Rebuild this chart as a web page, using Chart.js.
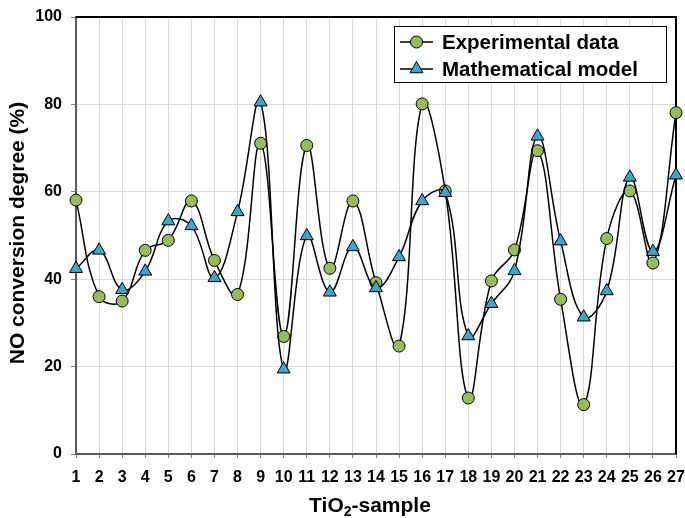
<!DOCTYPE html>
<html>
<head>
<meta charset="utf-8">
<script src="https://cdn.jsdelivr.net/npm/chart.js@4/dist/chart.umd.min.js"></script>
<style>
  html, body { margin: 0; padding: 0; background: #ffffff; }
  #wrap { width: 685px; height: 518px; position: relative; }
</style>
</head>
<body>
<div id="wrap"><canvas id="chart" width="685" height="518"></canvas></div>
<script>
// TiO2 samples 1..27
const samples = ['1','2','3','4','5','6','7','8','9','10','11','12','13','14','15','16','17','18','19','20','21','22','23','24','25','26','27'];

// NO conversion degree (%)
const experimental = [58.1, 36.0, 35.0, 46.6, 48.9, 57.9, 44.3, 36.5, 71.1, 26.9, 70.6, 42.5, 57.9, 39.2,
                      24.7, 80.1, 60.2, 12.8, 39.6, 46.7, 69.4, 35.4, 11.3, 49.3, 60.2, 43.7, 78.1];
const model = [42.4, 46.6, 37.6, 41.8, 53.3, 52.2, 40.3, 55.4, 80.5, 19.4, 49.9, 37.0, 47.4, 38.0,
               45.1, 57.9, 59.8, 27.0, 34.4, 41.9, 72.7, 48.7, 31.3, 37.3, 63.3, 46.3, 63.8];

const yMin = 0, yMax = 100, yStep = 20;

const seriesNames = ['Experimental data', 'Mathematical model'];
const yTitle = 'NO conversion degree (%)';

const FONT = '"Liberation Sans", Arial, sans-serif';
const GREEN = '#9bbb59';
const BLUE = '#3ba6c6';

// top/right frame of the plot area
const frame = {
  id: 'frame',
  beforeDatasetsDraw(chart) {
    const { ctx, chartArea: a } = chart;
    ctx.save();
    ctx.strokeStyle = '#000000';
    ctx.lineWidth = 2;
    ctx.beginPath();
    ctx.moveTo(a.left, a.top);
    ctx.lineTo(a.right, a.top);
    ctx.lineTo(a.right, a.bottom);
    ctx.stroke();
    ctx.restore();
  }
};

function marker(ctx, style, x, y, r, fill) {
  ctx.beginPath();
  if (style === 'circle') {
    ctx.arc(x, y, r, 0, Math.PI * 2);
  } else {
    for (let i = 0; i < 3; i++) {
      const ang = i * 2 * Math.PI / 3;
      const px = x + Math.sin(ang) * r, py = y - Math.cos(ang) * r;
      if (i === 0) ctx.moveTo(px, py); else ctx.lineTo(px, py);
    }
    ctx.closePath();
  }
  ctx.fillStyle = fill;
  ctx.fill();
  ctx.lineWidth = 1;
  ctx.strokeStyle = '#000000';
  ctx.stroke();
}

// boxed legend inside the plot and the axis titles
const decorations = {
  id: 'decorations',
  afterDatasetsDraw(chart) {
    const { ctx } = chart;
    ctx.save();
    // legend box
    const bx = 394, by = 26, bw = 272, bh = 56;
    ctx.fillStyle = '#ffffff';
    ctx.fillRect(bx, by, bw, bh);
    ctx.strokeStyle = '#000000';
    ctx.lineWidth = 1;
    ctx.strokeRect(bx + 0.5, by + 0.5, bw, bh);
    const rows = [by + 16, by + 43];
    chart.data.datasets.forEach((ds, i) => {
      const y = rows[i];
      ctx.strokeStyle = '#000000';
      ctx.lineWidth = 1.5;
      ctx.beginPath();
      ctx.moveTo(400, y);
      ctx.lineTo(433, y);
      ctx.stroke();
      marker(ctx, ds.pointStyle, 416.5, y, ds.pointRadius, ds.pointBackgroundColor);
      ctx.fillStyle = '#000000';
      ctx.font = 'bold 20.5px ' + FONT;
      ctx.textAlign = 'left';
      ctx.textBaseline = 'middle';
      ctx.fillText(ds.label, 442, y + 1);
    });

    // y-axis title
    ctx.save();
    ctx.translate(24, 233);
    ctx.rotate(-Math.PI / 2);
    ctx.font = 'bold 21px ' + FONT;
    ctx.fillStyle = '#000000';
    ctx.textAlign = 'center';
    ctx.textBaseline = 'alphabetic';
    ctx.fillText(yTitle, 0, 0);
    ctx.restore();

    // x-axis title: TiO2-sample with subscript
    const big = 'bold 21px ' + FONT, small = 'bold 14px ' + FONT;
    ctx.fillStyle = '#000000';
    ctx.textBaseline = 'alphabetic';
    ctx.textAlign = 'left';
    ctx.font = big;
    const w1 = ctx.measureText('TiO').width;
    const w3 = ctx.measureText('-sample').width;
    ctx.font = small;
    const w2 = ctx.measureText('2').width;
    const total = w1 + w2 + w3;
    let x = 370 - total / 2;
    const base = 512;
    ctx.font = big;
    ctx.fillText('TiO', x, base);
    x += w1;
    ctx.font = small;
    ctx.fillText('2', x, base + 4);
    x += w2;
    ctx.font = big;
    ctx.fillText('-sample', x, base);
    ctx.restore();
  }
};

new Chart(document.getElementById('chart'), {
  type: 'line',
  data: {
    labels: samples,
    datasets: [
      {
        label: seriesNames[0],
        data: experimental,
        borderColor: '#000000',
        borderWidth: 1.5,
        pointStyle: 'circle',
        pointRadius: 6,
        pointBackgroundColor: GREEN,
        pointBorderColor: '#000000',
        pointBorderWidth: 1,
        tension: 0.4,
        fill: false,
        order: 2
      },
      {
        label: seriesNames[1],
        data: model,
        borderColor: '#000000',
        borderWidth: 1.5,
        pointStyle: 'triangle',
        pointRadius: 7.5,
        pointBackgroundColor: BLUE,
        pointBorderColor: '#000000',
        pointBorderWidth: 1,
        tension: 0.4,
        fill: false,
        order: 1
      }
    ]
  },
  options: {
    responsive: false,
    animation: false,
    events: [],
    layout: { padding: { left: 0, top: 17, right: 9, bottom: 0 } },
    plugins: {
      legend: { display: false },
      tooltip: { enabled: false },
      title: { display: false }
    },
    scales: {
      x: {
        type: 'category',
        offset: false,
        grid: { color: '#d9d9d9', lineWidth: 1, tickColor: '#808080', tickLength: 4, drawTicks: true },
        border: { color: '#595959', width: 2 },
        ticks: {
          color: '#000000',
          font: { family: FONT, size: 16, weight: 'bold' },
          padding: 10,
          autoSkip: false,
          maxRotation: 0,
          minRotation: 0
        },
        afterFit(s) { s.height = 64; s.paddingLeft = 0; s.paddingRight = 0; }
      },
      y: {
        min: yMin,
        max: yMax,
        grid: { color: '#d9d9d9', lineWidth: 1, tickColor: '#808080', tickLength: 5, drawTicks: true },
        border: { color: '#595959', width: 2 },
        ticks: {
          stepSize: yStep,
          color: '#000000',
          font: { family: FONT, size: 16, weight: 'bold' },
          padding: 9
        },
        afterFit(s) { s.width = 76; s.paddingTop = 0; s.paddingBottom = 0; }
      }
    }
  },
  plugins: [frame, decorations]
});
</script>
</body>
</html>
